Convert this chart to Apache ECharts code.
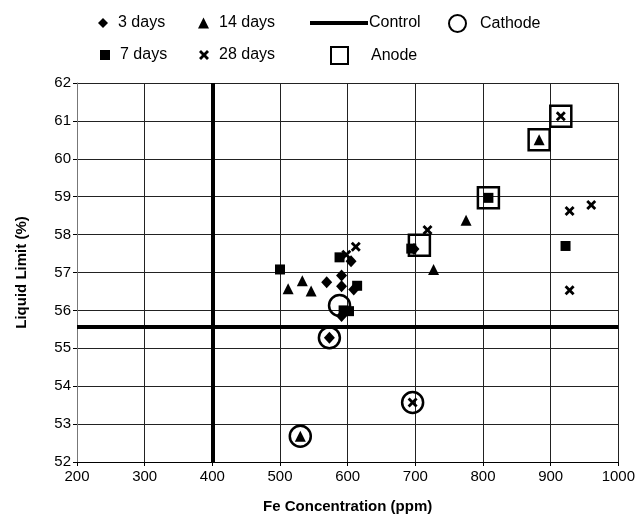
<!DOCTYPE html>
<html>
<head>
<meta charset="utf-8">
<script src="https://cdn.jsdelivr.net/npm/echarts@6/dist/echarts.min.js"></script>
<style>
  html, body { margin: 0; padding: 0; background: #fff; }
  #chart { width: 638px; height: 519px; }
</style>
</head>
<body>
<div id="chart"></div>
<script>
// Fe concentration (ppm) vs liquid limit (%)
const days3 = [[569, 56.74], [591, 56.92], [591, 56.64], [605, 57.30], [609, 56.55], [591, 55.85], [573, 55.28], [698, 57.62]];
const days7 = [[500, 57.08], [588, 57.40], [594, 56.00], [602, 55.98], [614, 56.65], [694, 57.63], [808, 58.97], [922, 57.70]];
const days14 = [[512, 56.57], [533, 56.78], [546, 56.51], [530, 52.68], [727, 57.08], [775, 58.38], [883, 60.50]];
const days28 = [[598, 57.47], [612, 57.68], [696, 53.57], [718, 58.12], [915, 61.12], [928, 58.62], [960, 58.78], [928, 56.53]];
const cathode = [[588, 56.13], [573, 55.28], [530, 52.68], [696, 53.57]];
const anode = [[706, 57.72], [808, 58.97], [883, 60.50], [915, 61.12]];

const controlFe = 400;
const controlLL = 55.56;

const crossPath = 'path://M0,2L2,0L5,3L8,0L10,2L7,5L10,8L8,10L5,7L2,10L0,8L3,5Z';
const font = 'Liberation Sans';

let chart = echarts.init(document.getElementById('chart'));

// one small legend per entry so they sit like the original two rows
function leg(name, left, top, w, h, extra) {
  return Object.assign({
    data: [name], left: left, top: top, padding: 0,
    itemWidth: w, itemHeight: h,
    selectedMode: false,
    textStyle: {fontFamily: font, fontSize: 16, color: '#000', padding: [0, 0, 0, 5]}
  }, extra || {});
}

const opaque = {color: '#000', opacity: 1};

const option = {
  animation: false,
  grid: {left: 77, right: 19, top: 83, bottom: 56},
  legend: [
    leg('3 days', 98, 15, 10, 10),
    leg('7 days', 100, 47, 10, 10),
    leg('14 days', 198, 15, 11, 11),
    leg('28 days', 199, 47, 10, 10),
    leg('Control', 310, 15, 58, 4, {icon: 'rect', textStyle: {fontFamily: font, fontSize: 16, color: '#000', padding: [0, 0, 0, -4]}}),
    leg('Cathode', 448, 14, 17, 17, {textStyle: {fontFamily: font, fontSize: 16, color: '#000', padding: [0, 0, 0, 9]}}),
    leg('Anode', 330, 46, 17, 17, {textStyle: {fontFamily: font, fontSize: 16, color: '#000', padding: [0, 0, 0, 18]}})
  ],
  xAxis: {
    type: 'value', min: 200, max: 1000, interval: 100,
    name: 'Fe Concentration (ppm)', nameLocation: 'middle', nameGap: 37,
    nameTextStyle: {fontFamily: font, fontSize: 15, fontWeight: 'bold', color: '#000'},
    axisLine: {onZero: false, lineStyle: {color: '#000', width: 1}},
    axisTick: {show: true, length: 4, lineStyle: {color: '#000'}},
    axisLabel: {fontFamily: font, fontSize: 15, color: '#000', margin: 7, formatter: v => String(v)},
    splitLine: {show: true, lineStyle: {color: '#222', width: 1}}
  },
  yAxis: {
    type: 'value', min: 52, max: 62, interval: 1,
    name: 'Liquid Limit (%)', nameLocation: 'middle', nameGap: 48,
    nameTextStyle: {fontFamily: font, fontSize: 15, fontWeight: 'bold', color: '#000'},
    axisLine: {show: true, onZero: false, lineStyle: {color: '#777', width: 1}},
    axisTick: {show: true, length: 4, lineStyle: {color: '#000'}},
    axisLabel: {fontFamily: font, fontSize: 15, color: '#000', margin: 6},
    splitLine: {show: true, lineStyle: {color: '#222', width: 1}}
  },
  series: [
    {
      name: 'Control', type: 'line', data: [], silent: true,
      itemStyle: opaque, lineStyle: {color: '#000', width: 4},
      markLine: {
        symbol: 'none', silent: true, label: {show: false},
        lineStyle: {color: '#000', width: 4, type: 'solid', opacity: 1},
        data: [{xAxis: controlFe}, {yAxis: controlLL}]
      }
    },
    {name: 'Cathode', type: 'scatter', data: cathode, symbol: 'circle', symbolSize: 21, z: 3,
      itemStyle: {color: 'rgba(0,0,0,0)', borderColor: '#000', borderWidth: 2.5, opacity: 1}},
    {name: 'Anode', type: 'scatter', data: anode, symbol: 'rect', symbolSize: 21, z: 3,
      itemStyle: {color: 'rgba(0,0,0,0)', borderColor: '#000', borderWidth: 2.5, opacity: 1}},
    {name: '3 days', type: 'scatter', data: days3, symbol: 'diamond', symbolSize: [11, 12], z: 4,
      itemStyle: opaque},
    {name: '7 days', type: 'scatter', data: days7, symbol: 'rect', symbolSize: 10, z: 4,
      itemStyle: opaque},
    {name: '14 days', type: 'scatter', data: days14, symbol: 'triangle', symbolSize: [11, 11], z: 4,
      itemStyle: opaque},
    {name: '28 days', type: 'scatter', data: days28, symbol: crossPath, symbolSize: 10, z: 4,
      itemStyle: opaque}
  ]
};

chart.setOption(option);
</script>
</body>
</html>
